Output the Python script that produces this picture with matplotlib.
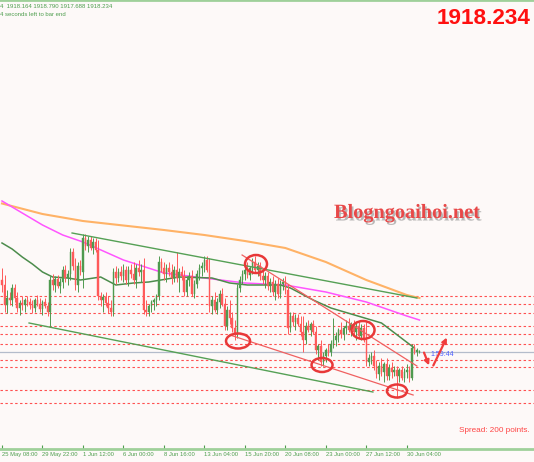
import matplotlib
matplotlib.use("Agg")
import matplotlib.pyplot as plt
import matplotlib.patheffects as pe
from matplotlib.patches import Ellipse, Rectangle, FancyArrowPatch
from matplotlib.transforms import ScaledTranslation

# ---- data ----
opens = [1954, 1951.5, 1941.5, 1945, 1944, 1950, 1945, 1940, 1942.5, 1941.5,
         1944, 1943, 1941.5, 1940, 1944, 1942, 1939.5, 1943, 1941, 1938,
         1954, 1951.5, 1954.5, 1951, 1953, 1959, 1955, 1957, 1968, 1961,
         1951.5, 1961, 1958, 1975, 1971, 1974, 1970, 1973, 1969, 1946,
         1944, 1945.5, 1942.5, 1940, 1938, 1958, 1955, 1958, 1956, 1959,
         1954, 1959, 1957, 1954, 1960, 1958, 1959, 1939, 1938, 1941,
         1943, 1944, 1946, 1963, 1960, 1957, 1960, 1958, 1955, 1959,
         1955, 1958, 1956, 1948, 1954, 1956, 1947, 1952, 1957, 1960,
         1961, 1964, 1959, 1941, 1944, 1939, 1943, 1947, 1942, 1931,
         1939, 1935, 1930, 1927, 1950, 1954, 1957, 1959, 1956.5, 1960,
         1963, 1959, 1961, 1956, 1954, 1956, 1951, 1953, 1948, 1952,
         1947, 1952, 1953, 1949, 1930, 1936, 1933, 1935, 1932, 1928,
         1924, 1931, 1929, 1932, 1928, 1919, 1921, 1913, 1916, 1919,
         1918, 1922, 1924, 1926, 1929, 1927, 1930, 1931, 1929, 1932,
         1928, 1931, 1926, 1930, 1924, 1913, 1915, 1916, 1911, 1907,
         1911, 1908, 1912, 1906, 1910, 1908, 1909, 1906, 1909, 1905,
         1908, 1909, 1905, 1920, 1918, 1918.164]
highs = [1960, 1956.5, 1949, 1948, 1952, 1952, 1948, 1944, 1946, 1945,
         1946, 1945, 1944, 1945, 1946.5, 1945, 1944, 1945, 1943, 1956,
         1957, 1956, 1956.5, 1955, 1961, 1961.5, 1959, 1970, 1970, 1965,
         1963, 1964, 1977, 1977, 1976, 1976, 1975, 1975, 1974, 1948,
         1947, 1948, 1946, 1944, 1960, 1961, 1960, 1961, 1962, 1961,
         1961, 1962, 1963, 1962, 1964, 1962, 1965, 1944, 1942, 1944,
         1945, 1947, 1966, 1965, 1963, 1962, 1963, 1962, 1961, 1968,
         1960, 1961, 1959, 1956, 1958, 1959, 1954, 1959, 1962, 1963,
         1966, 1966, 1965, 1946, 1948, 1945, 1949, 1950, 1945, 1941,
         1944, 1938, 1934, 1952, 1956, 1959, 1961, 1963, 1961, 1965,
         1966, 1963, 1963, 1959, 1958, 1958, 1955, 1956, 1954, 1955,
         1954, 1955, 1956, 1952, 1938, 1938, 1937, 1937, 1936, 1936,
         1933, 1934, 1933, 1934, 1931, 1922, 1924, 1918, 1920, 1922,
         1924, 1935, 1928, 1930, 1933, 1931, 1934, 1935, 1933, 1934,
         1933, 1933, 1932, 1932, 1933, 1917, 1918, 1919, 1914, 1913,
         1915, 1913, 1915, 1912, 1913, 1911, 1911, 1910, 1911, 1910,
         1912, 1911, 1922, 1922, 1920, 1918.79]
lows = [1948, 1938, 1937.5, 1941.5, 1941, 1943, 1938, 1936.5, 1939, 1938,
        1941, 1939.5, 1937.5, 1938, 1941, 1938, 1936.5, 1940, 1936, 1930.5,
        1949, 1948, 1950, 1947.5, 1950, 1953, 1951.5, 1954, 1959, 1949,
        1948, 1956.5, 1950, 1969, 1968, 1969, 1967, 1968, 1944, 1941,
        1938, 1941, 1937.5, 1936, 1936, 1952, 1953, 1954, 1953, 1952,
        1951, 1955, 1952, 1950, 1956, 1953, 1937, 1936, 1936, 1938,
        1939, 1941, 1944, 1958, 1954, 1953, 1956, 1952, 1953, 1953,
        1948, 1954, 1946, 1946, 1951, 1946, 1945, 1950, 1954, 1956,
        1958, 1958, 1938, 1937, 1938, 1937, 1940, 1941, 1929, 1929,
        1932, 1928, 1924, 1925, 1948, 1952, 1954, 1955, 1954, 1957,
        1958, 1956, 1954, 1952, 1950, 1949, 1948, 1946, 1944, 1945,
        1945, 1949, 1947, 1927, 1928, 1931, 1929, 1931, 1926, 1918,
        1922, 1928, 1926, 1927, 1917, 1914, 1911, 1911, 1913, 1916,
        1916, 1920, 1921, 1923, 1925, 1924, 1927, 1928, 1926, 1927,
        1924, 1925, 1924, 1923, 1911, 1911, 1912, 1909, 1905, 1904,
        1906, 1903, 1904, 1904, 1905, 1906, 1895, 1903, 1904, 1903,
        1905, 1903, 1904, 1917, 1916, 1917.688]
closes = [1951.5, 1941.5, 1945, 1944, 1950, 1945, 1940, 1942.5, 1941.5, 1944,
          1943, 1941.5, 1940, 1944, 1942, 1939.5, 1943, 1941, 1938, 1954,
          1951.5, 1954.5, 1951, 1953, 1959, 1955, 1957, 1968, 1961, 1951.5,
          1961, 1959, 1975, 1971, 1974, 1970, 1973, 1969, 1946, 1944,
          1945.5, 1942.5, 1940, 1938, 1958, 1955, 1958, 1956, 1959, 1954,
          1959, 1957, 1954, 1960, 1958, 1959, 1939, 1938, 1941, 1943,
          1944, 1946, 1963, 1960, 1957, 1960, 1958, 1955, 1959, 1955,
          1958, 1956, 1948, 1954, 1956, 1947, 1952, 1957, 1960, 1961,
          1964, 1959, 1941, 1944, 1939, 1943, 1947, 1942, 1931, 1939,
          1935, 1930, 1927, 1950, 1954, 1957, 1959, 1956.5, 1960, 1963,
          1959, 1961, 1956, 1954, 1956, 1951, 1953, 1948, 1952, 1947,
          1952, 1953, 1949, 1930, 1936, 1933, 1935, 1932, 1928, 1924,
          1931, 1929, 1932, 1928, 1919, 1921, 1913, 1916, 1919, 1918,
          1922, 1924, 1926, 1929, 1927, 1930, 1931, 1929, 1932, 1928,
          1931, 1926, 1930, 1924, 1913, 1915, 1916, 1911, 1907, 1911,
          1908, 1912, 1906, 1910, 1908, 1909, 1906, 1909, 1905, 1908,
          1909, 1905, 1920, 1918, 1919, 1918.234]

last_price = 1918.234

# moving averages (bar index, price)
ma_orange_x = [0, 16, 32, 48, 64, 80, 96, 112, 128, 144, 160, 165]
ma_orange_y = [1992.25, 1987, 1983.5, 1981.25, 1979, 1976.5, 1973.5, 1970, 1963, 1954, 1946.5, 1945]
ma_magenta_x = [0, 8, 16, 24, 32, 48, 64, 80, 96, 112, 128, 144, 160, 165]
ma_magenta_y = [1993.5, 1987.5, 1981.5, 1976.5, 1973, 1964, 1957.5, 1955, 1952.5, 1951.5, 1948, 1943, 1936, 1934]
ma_green_x = [0, 4, 8, 12, 16, 20, 26, 31, 39, 45, 52, 58, 70, 83, 90, 97, 110, 114, 123, 130, 142, 150, 163]
ma_green_y = [1972.5, 1969.5, 1965.5, 1962, 1958, 1955.5, 1955, 1954, 1955.5, 1951.5, 1952.5, 1953,
              1955.5, 1955, 1952.5, 1951.5, 1951.5, 1950, 1944, 1940, 1935.5, 1932.5, 1920]

# hand drawn analysis
green_trend_lines = [((27.7, 1977.5), (164, 1945)), ((10.7, 1932.5), (146.6, 1898))]
red_trend_lines = [((94.9, 1966.5), (164, 1911)), ((90.1, 1926.5), (162.5, 1896.5))]
level_prices = [1946, 1942, 1937.5, 1931, 1927, 1922, 1914, 1910.5, 1899, 1892.5]
circle_centers = [(100.4, 1962), (93.3, 1923.5), (126.5, 1911.5), (142.7, 1929), (156.1, 1898.5)]
circle_sizes = [(8.7, 9), (9.5, 7.5), (8.3, 7), (9.1, 9), (7.9, 6.5)]
arrow_paths = [((166.4, 1919), (169.2, 1910)), ((170, 1910), (176.3, 1926.5))]

tick_bars = [0, 16, 32, 48, 64, 80, 96, 112, 128, 144, 160]
tick_labels = ["25 May 08:00", "29 May 22:00", "1 Jun 12:00", "6 Jun 00:00", "8 Jun 16:00",
               "13 Jun 04:00", "15 Jun 20:00", "20 Jun 08:00", "23 Jun 00:00",
               "27 Jun 12:00", "30 Jun 04:00"]

BG = "#fdf9f8"
BULL = "#4f9a4f"
BEAR = "#ff5a5a"
AXIS_GREEN = "#9fd09a"
TXT_GREEN = "#4e9e4e"

W, H = 534, 462
fig = plt.figure(figsize=(W / 100, H / 100), dpi=100)
fig.patch.set_facecolor(BG)
ax = fig.add_axes([0, 13 / H, 1, 449 / H])
ax.set_facecolor(BG)
ax.set_xlim(-0.79, 210.28)
ax.set_ylim(1869.5, 2094)

# support / resistance levels
for p in level_prices:
    ax.axhline(p, color="#ff5050", lw=0.8, ls=(0, (2.2, 2.2)), zorder=1)
ax.axhline(last_price, color="#b4bccb", lw=0.9, zorder=1)

# moving averages
ax.plot(ma_orange_x, ma_orange_y, color="#ffb266", lw=1.5, zorder=2)
ax.plot(ma_magenta_x, ma_magenta_y, color="#ff55ff", lw=1.1, zorder=2)
ax.plot(ma_green_x, ma_green_y, color="#4c8c4c", lw=1.1, zorder=2)

# candles
for i, (o, h, l, c) in enumerate(zip(opens, highs, lows, closes)):
    col = BULL if c >= o else BEAR
    ax.vlines(i, l, h, color=col, lw=0.7, zorder=3)
    ax.add_patch(Rectangle((i - 0.3, min(o, c)), 0.6, max(abs(c - o), 0.35),
                           facecolor=col, edgecolor=col, lw=0.3, zorder=3))

# trend lines
for (x0, y0), (x1, y1) in green_trend_lines:
    ax.plot([x0, x1], [y0, y1], color="#55a055", lw=1.0, zorder=4)
for (x0, y0), (x1, y1) in red_trend_lines:
    ax.plot([x0, x1], [y0, y1], color="#f06060", lw=0.9, zorder=4)

# circled swing points
for (cx, cy), (w, h) in zip(circle_centers, circle_sizes):
    ax.add_patch(Ellipse((cx, cy), w, h, fill=False, edgecolor="#e83838", lw=1.8, zorder=5))

# expected move arrows
for start, end in arrow_paths:
    ax.add_patch(FancyArrowPatch(start, end, arrowstyle="-|>", mutation_scale=7,
                                 color="#f03c3c", lw=1.6, zorder=5))

# x axis in MT4 style
ax.set_xticks(tick_bars)
ax.set_xticklabels(tick_labels, ha="left", fontsize=4.2, color=TXT_GREEN,
                   family="Liberation Sans")
shift = ScaledTranslation(1 / 100, 0, fig.dpi_scale_trans)
for lab in ax.get_xticklabels():
    lab.set_transform(lab.get_transform() + shift)
ax.tick_params(axis="x", direction="in", length=3, width=0.8, color=TXT_GREEN, pad=2)
ax.set_yticks([])
for side in ("left", "right"):
    ax.spines[side].set_visible(False)
for side in ("top", "bottom"):
    ax.spines[side].set_color(AXIS_GREEN)
    ax.spines[side].set_linewidth(2)

# texts
ax.text(169.5, last_price - 1.5, "1:59:44", fontsize=5, color="#4a5cff",
        ha="left", va="center", family="Liberation Sans", zorder=4)
fig.text(0, 1 - 6 / H, "4  1918.164 1918.790 1917.688 1918.234", fontsize=4.3,
         color=TXT_GREEN, va="center", family="Liberation Sans")
fig.text(0, 1 - 15 / H, "4 seconds left to bar end", fontsize=4.3,
         color=TXT_GREEN, va="center", family="Liberation Sans")
fig.text(531 / W, 1 - 18 / H, "1918.234", fontsize=16.2, color="#ff1010",
         weight="bold", ha="right", va="center", family="Liberation Sans")
fig.text(459 / W, 1 - 431 / H, "Spread: 200 points.", fontsize=5.9, color="#ff4545",
         va="center", family="Liberation Sans")
fig.text(334 / W, 1 - 213 / H, "Blogngoaihoi.net", fontsize=14.6, color="#e84848",
         weight="bold", va="center", family="Liberation Serif",
         path_effects=[pe.SimplePatchShadow(offset=(1.2, -1.8), shadow_rgbFace="#777777", alpha=0.5),
                       pe.Normal()])

fig.savefig("out.png", dpi=100, facecolor=BG)
